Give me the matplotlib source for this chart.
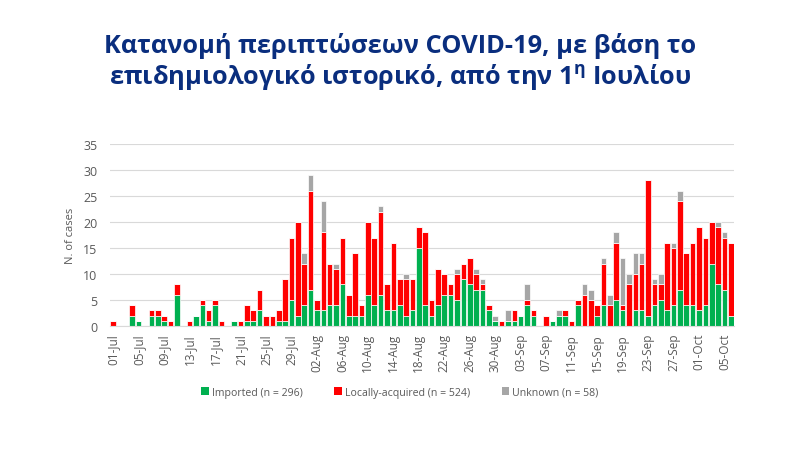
import matplotlib.pyplot as plt
import numpy as np
import datetime as dt
from matplotlib.patches import Patch

# daily cases, 01-Jul .. 06-Oct
imported_jul = [0, 0, 0, 2, 1, 0, 2, 2, 1, 0, 6, 0, 0, 2, 4, 1, 4, 0, 0, 1, 0, 1, 1, 3, 0, 0, 1, 1, 5, 2, 4]
local_jul = [1, 0, 0, 2, 0, 0, 1, 1, 1, 1, 2, 0, 1, 0, 1, 2, 1, 1, 0, 0, 1, 3, 2, 4, 2, 2, 2, 8, 12, 18, 8]
unknown_jul = [0] * 30 + [2]

imported_aug = [7, 3, 3, 4, 4, 8, 2, 2, 2, 6, 4, 6, 3, 3, 4, 2, 3, 15, 4, 2, 4, 6, 6, 5, 9, 8, 7, 7, 3, 1, 0]
local_aug = [19, 2, 15, 8, 7, 9, 4, 12, 2, 14, 13, 16, 5, 13, 5, 7, 6, 4, 14, 3, 7, 4, 2, 5, 3, 5, 3, 1, 1, 0, 1]
unknown_aug = [3, 0, 6, 0, 1, 0, 0, 0, 0, 0, 0, 1, 0, 0, 0, 1, 0, 0, 0, 0, 0, 0, 0, 1, 0, 0, 1, 1, 0, 1, 0]

imported_sep = [1, 1, 2, 4, 2, 0, 0, 1, 2, 2, 0, 4, 0, 0, 2, 4, 0, 5, 3, 0, 3, 3, 2, 4, 5, 3, 4, 7, 4, 4]
local_sep = [0, 2, 0, 1, 1, 0, 2, 0, 0, 1, 1, 1, 6, 5, 2, 8, 4, 11, 1, 8, 7, 9, 26, 4, 3, 13, 11, 17, 10, 12]
unknown_sep = [2, 0, 0, 3, 0, 0, 0, 0, 1, 0, 0, 0, 2, 2, 0, 1, 2, 2, 9, 2, 4, 2, 0, 1, 2, 0, 1, 2, 0, 0]

imported_oct = [3, 4, 12, 8, 7, 2]
local_oct = [16, 13, 8, 11, 10, 14]
unknown_oct = [0, 0, 0, 1, 1, 0]

imported = np.array(imported_jul + imported_aug + imported_sep + imported_oct)
local = np.array(local_jul + local_aug + local_sep + local_oct)
unknown = np.array(unknown_jul + unknown_aug + unknown_sep + unknown_oct)

start = dt.date(2020, 7, 1)
dates = [start + dt.timedelta(days=i) for i in range(len(imported))]
labels = [d.strftime('%d-%b') for d in dates]

legend_labels = ['Imported (n = 296)', 'Locally-acquired (n = 524)', 'Unknown (n = 58)']
colors = ['#00B050', '#FF0000', '#A6A6A6']

title = ('Κατανομή περιπτώσεων COVID-19, με βάση το\n'
         r'επιδημιολογικό ιστορικό, από την 1$^{\mathrm{η}}$ Ιουλίου')

plt.rcParams['font.family'] = ['Open Sans', 'DejaVu Sans']
plt.rcParams['mathtext.fontset'] = 'custom'
plt.rcParams['mathtext.rm'] = 'Open Sans:bold'

fig = plt.figure(figsize=(8, 4.52), dpi=100)
ax = fig.add_axes([0.1375, 0.2765, 0.78, 0.4027])

x = np.arange(len(imported))
w = 0.88
ax.bar(x, imported, width=w, color=colors[0], edgecolor='white', linewidth=0.5, zorder=2)
ax.bar(x, local, width=w, bottom=imported, color=colors[1], edgecolor='white', linewidth=0.5, zorder=2)
ax.bar(x, unknown, width=w, bottom=imported + local, color=colors[2], edgecolor='white', linewidth=0.5, zorder=2)

ax.set_xlim(-0.5, len(x) - 0.5)
ax.set_ylim(0, 35)
ax.set_yticks(range(0, 36, 5))
ax.grid(axis='y', color='#D9D9D9', linewidth=0.8, zorder=0)
for s in ['top', 'right', 'left']:
    ax.spines[s].set_visible(False)
ax.spines['bottom'].set_color('#D9D9D9')

ax.set_xticks(x[::4])
ax.set_xticklabels(labels[::4], rotation=90, fontsize=8.5, color='#595959')
ax.tick_params(axis='x', length=0, pad=5)
ax.tick_params(axis='y', length=0, labelsize=9, labelcolor='#595959', pad=9)
ax.set_ylabel('N. of cases', fontsize=8, color='#595959', labelpad=5)

handles = [Patch(facecolor=c) for c in colors]
fig.legend(handles, legend_labels, loc='center', bbox_to_anchor=(0.5, 0.13), ncol=3,
           frameon=False, fontsize=7.6, labelcolor='#595959', handlelength=0.7, handleheight=0.7,
           handletextpad=0.3, columnspacing=3.0)

fig.text(0.5, 0.862, title, ha='center', va='center', fontsize=18.3, fontweight='bold',
         color='#0A2E7E', linespacing=1.14)

fig.savefig('out.png', dpi=100)
